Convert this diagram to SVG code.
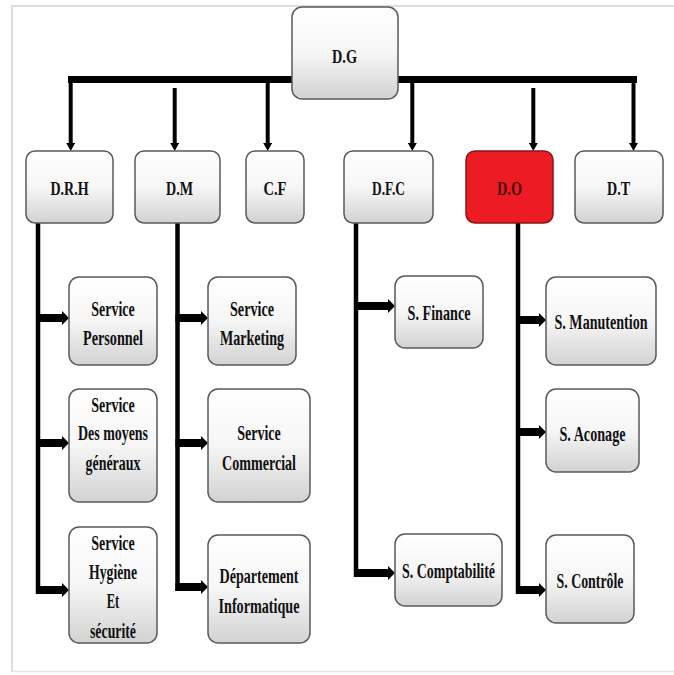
<svg xmlns="http://www.w3.org/2000/svg" width="674" height="675" viewBox="0 0 674 675">
<defs>
<linearGradient id="g" x1="0" y1="0" x2="0" y2="1">
<stop offset="0" stop-color="#ffffff"/>
<stop offset="0.5" stop-color="#f6f6f6"/>
<stop offset="1" stop-color="#d2d2d2"/>
</linearGradient>
<marker id="dh" viewBox="0 0 8 9" refX="3" refY="4.5" markerWidth="8" markerHeight="9" markerUnits="userSpaceOnUse" orient="auto">
<path d="M0,0 L8,4.5 L0,9 z" fill="#000"/>
</marker>
<marker id="rh" viewBox="0 0 7 14" refX="1" refY="7" markerWidth="7" markerHeight="14" markerUnits="userSpaceOnUse" orient="auto">
<path d="M0,0 L7,7 L0,14 z" fill="#000"/>
</marker>
<style>
.box{fill:url(#g);stroke:#5a5a5a;stroke-width:1.5}
.red{fill:#ed1c24;stroke:#8a1414;stroke-width:1.5}
.t{font-family:"Liberation Serif","Times New Roman",serif;font-weight:bold;text-anchor:middle;fill:#111}
.t2{font-size:19px}
.t3{font-size:21px}
.v{stroke:#000;stroke-width:4;fill:none}
.bar{stroke:#000;stroke-width:7;fill:none}
.tr{stroke:#000;stroke-width:4.5;fill:none}
.h{stroke:#000;stroke-width:8;fill:none}
</style>
</defs>
<rect x="0" y="0" width="674" height="675" fill="#fff"/>
<path d="M12,672 V6 H674" fill="none" stroke="#d4d4d4" stroke-width="1.5"/>
<path d="M12,671.5 H674" fill="none" stroke="#e6e6e6" stroke-width="1.5"/>

<g id="connectors">
<line class="bar" x1="68" y1="79.5" x2="637" y2="79.5"/>
<line class="v" x1="70.7" y1="76" x2="70.7" y2="146" marker-end="url(#dh)"/>
<line class="v" x1="174.7" y1="88" x2="174.7" y2="146" marker-end="url(#dh)"/>
<line class="v" x1="267.7" y1="80" x2="267.7" y2="146" marker-end="url(#dh)"/>
<line class="v" x1="412.3" y1="80" x2="412.3" y2="146" marker-end="url(#dh)"/>
<line class="v" x1="533.3" y1="88" x2="533.3" y2="146" marker-end="url(#dh)"/>
<line class="v" x1="633.5" y1="76" x2="633.5" y2="146" marker-end="url(#dh)"/>

<line class="tr" x1="38" y1="223" x2="38" y2="594"/>
<line class="tr" x1="177.5" y1="223" x2="177.5" y2="591"/>
<line class="tr" x1="356" y1="223" x2="356" y2="577"/>
<line class="tr" x1="518" y1="223" x2="518" y2="594"/>

<line class="h" x1="36" y1="318" x2="63" y2="318" marker-end="url(#rh)"/>
<line class="h" x1="36" y1="443" x2="63" y2="443" marker-end="url(#rh)"/>
<line class="h" x1="36" y1="590" x2="63" y2="590" marker-end="url(#rh)"/>
<line class="h" x1="175.5" y1="318" x2="202" y2="318" marker-end="url(#rh)"/>
<line class="h" x1="175.5" y1="443" x2="202" y2="443" marker-end="url(#rh)"/>
<line class="h" x1="175.5" y1="587" x2="202" y2="587" marker-end="url(#rh)"/>
<line class="h" x1="354" y1="306" x2="389" y2="306" marker-end="url(#rh)"/>
<line class="h" x1="354" y1="573" x2="389" y2="573" marker-end="url(#rh)"/>
<line class="h" x1="516" y1="320" x2="540" y2="320" marker-end="url(#rh)"/>
<line class="h" x1="516" y1="432" x2="540" y2="432" marker-end="url(#rh)"/>
<line class="h" x1="516" y1="590" x2="540" y2="590" marker-end="url(#rh)"/>
</g>

<g id="n-dg"><rect class="box" x="292" y="7" width="106" height="92" rx="10"/>
<text class="t t2" x="344.5" y="63" textLength="25" lengthAdjust="spacingAndGlyphs">D.G</text></g>

<g id="n-drh"><rect class="box" x="26" y="151" width="87" height="72" rx="9"/>
<text class="t t2" x="69.5" y="195" textLength="38" lengthAdjust="spacingAndGlyphs">D.R.H</text></g>
<g id="n-dm"><rect class="box" x="135" y="151" width="85" height="72" rx="9"/>
<text class="t t2" x="179.5" y="195" textLength="27" lengthAdjust="spacingAndGlyphs">D.M</text></g>
<g id="n-cf"><rect class="box" x="246" y="151" width="58" height="72" rx="9"/>
<text class="t t2" x="275" y="195" textLength="23" lengthAdjust="spacingAndGlyphs">C.F</text></g>
<g id="n-dfc"><rect class="box" x="344" y="151" width="89" height="72" rx="9"/>
<text class="t t2" x="388.5" y="195" textLength="33" lengthAdjust="spacingAndGlyphs">D.F.C</text></g>
<g id="n-do"><rect class="red" x="466" y="151" width="87" height="72" rx="9"/>
<text class="t t2" x="509.5" y="195" textLength="25" lengthAdjust="spacingAndGlyphs" style="fill:#4a0d0d">D.O</text></g>
<g id="n-dt"><rect class="box" x="575" y="151" width="88" height="72" rx="9"/>
<text class="t t2" x="618.5" y="195" textLength="23" lengthAdjust="spacingAndGlyphs">D.T</text></g>

<g id="n-personnel"><rect class="box" x="69" y="277" width="88" height="88" rx="10"/>
<text class="t t3" x="113" y="316" textLength="43.5" lengthAdjust="spacingAndGlyphs">Service</text>
<text class="t t3" x="113" y="345" textLength="60" lengthAdjust="spacingAndGlyphs">Personnel</text></g>
<g id="n-moyens"><rect class="box" x="69" y="389" width="88" height="113" rx="10"/>
<text class="t t3" x="113" y="412" textLength="43.5" lengthAdjust="spacingAndGlyphs">Service</text>
<text class="t t3" x="113" y="440" textLength="70" lengthAdjust="spacingAndGlyphs">Des moyens</text>
<text class="t t3" x="113" y="470" textLength="55" lengthAdjust="spacingAndGlyphs">généraux</text></g>
<g id="n-hygiene"><rect class="box" x="69" y="527" width="88" height="116" rx="10"/>
<text class="t t3" x="113" y="550" textLength="43.5" lengthAdjust="spacingAndGlyphs">Service</text>
<text class="t t3" x="113" y="579" textLength="48" lengthAdjust="spacingAndGlyphs">Hygiène</text>
<text class="t t3" x="113" y="608" textLength="12.5" lengthAdjust="spacingAndGlyphs">Et</text>
<text class="t t3" x="113" y="638" textLength="46" lengthAdjust="spacingAndGlyphs">sécurité</text></g>

<g id="n-marketing"><rect class="box" x="208" y="277" width="88" height="88" rx="10"/>
<text class="t t3" x="252" y="316" textLength="44" lengthAdjust="spacingAndGlyphs">Service</text>
<text class="t t3" x="252" y="345" textLength="64" lengthAdjust="spacingAndGlyphs">Marketing</text></g>
<g id="n-commercial"><rect class="box" x="208" y="389" width="102" height="113" rx="10"/>
<text class="t t3" x="259" y="440" textLength="43.5" lengthAdjust="spacingAndGlyphs">Service</text>
<text class="t t3" x="259" y="470" textLength="74" lengthAdjust="spacingAndGlyphs">Commercial</text></g>
<g id="n-informatique"><rect class="box" x="208" y="535" width="102" height="108" rx="10"/>
<text class="t t3" x="259" y="583" textLength="79" lengthAdjust="spacingAndGlyphs">Département</text>
<text class="t t3" x="259" y="613" textLength="81" lengthAdjust="spacingAndGlyphs">Informatique</text></g>

<g id="n-finance"><rect class="box" x="395" y="276" width="88" height="72" rx="10"/>
<text class="t t3" x="439" y="320" textLength="63" lengthAdjust="spacingAndGlyphs">S. Finance</text></g>
<g id="n-comptabilite"><rect class="box" x="395" y="534" width="107" height="72" rx="10"/>
<text class="t t3" x="448.5" y="578" textLength="93" lengthAdjust="spacingAndGlyphs">S. Comptabilité</text></g>

<g id="n-manutention"><rect class="box" x="546" y="277" width="110" height="88" rx="10"/>
<text class="t t3" x="0" y="0" transform="translate(601,329) scale(0.67,1)">S. Manutention</text></g>
<g id="n-aconage"><rect class="box" x="546" y="389" width="93" height="83" rx="10"/>
<text class="t t3" x="592.5" y="441" textLength="66" lengthAdjust="spacingAndGlyphs">S. Aconage</text></g>
<g id="n-controle"><rect class="box" x="546" y="535" width="88" height="88" rx="10"/>
<text class="t t3" x="590" y="588" textLength="67" lengthAdjust="spacingAndGlyphs">S. Contrôle</text></g>
</svg>
